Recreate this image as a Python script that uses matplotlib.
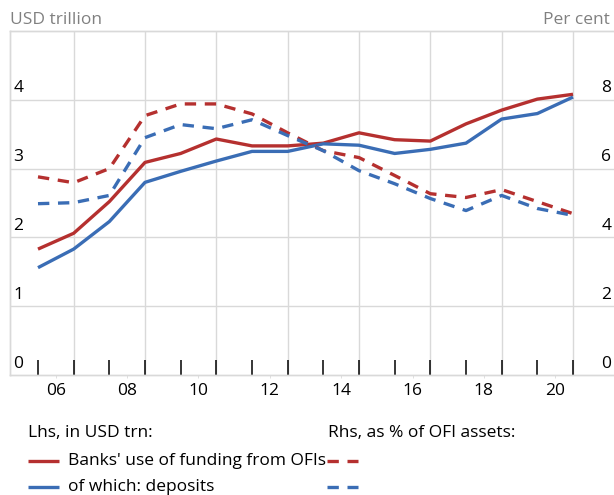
import matplotlib
matplotlib.use("Agg")
import matplotlib.pyplot as plt
from matplotlib.lines import Line2D
from matplotlib.transforms import ScaledTranslation
import numpy as np

plt.rcParams['font.family'] = ['Open Sans', 'DejaVu Sans']

# year-end observations, 2005-2020
years = np.arange(2005, 2021)
banks_funding = [1.83, 2.06, 2.52, 3.09, 3.22, 3.43, 3.33, 3.33, 3.37, 3.52,
                 3.42, 3.40, 3.65, 3.85, 4.01, 4.08]          # USD trn, lhs
deposits = [1.56, 1.83, 2.23, 2.80, 2.96, 3.11, 3.25, 3.25, 3.36, 3.34,
            3.22, 3.28, 3.37, 3.72, 3.80, 4.04]               # USD trn, lhs
banks_pct = [5.76, 5.59, 6.00, 7.54, 7.88, 7.88, 7.59, 7.04, 6.52, 6.32,
             5.80, 5.27, 5.16, 5.39, 5.04, 4.69]              # % of OFI assets, rhs
deposits_pct = [4.98, 5.01, 5.22, 6.90, 7.28, 7.16, 7.42, 6.96, 6.52, 5.94,
                5.56, 5.13, 4.78, 5.22, 4.84, 4.64]           # % of OFI assets, rhs

xlabels = ['06', '08', '10', '12', '14', '16', '18', '20']
lhs_ticks = [0, 1, 2, 3, 4]
rhs_ticks = [0, 2, 4, 6, 8]

red = '#B5302F'
blue = '#3A6DB5'
grid = '#D9D9D9'
fs = 12.5

W, H = 614, 495
fig = plt.figure(figsize=(W / 100, H / 100), dpi=100)
ax = fig.add_axes([10 / W, 120 / H, 604 / W, 344 / H])
ax2 = ax.twinx()

x = years + 1  # plotted at year end
ax.plot(x, banks_funding, color=red, lw=2.4, solid_capstyle='butt', zorder=3)
ax.plot(x, deposits, color=blue, lw=2.4, solid_capstyle='butt', zorder=3)
ax2.plot(x, banks_pct, color=red, lw=2.4, dashes=(3.4, 2.6), zorder=3)
ax2.plot(x, deposits_pct, color=blue, lw=2.4, dashes=(3.4, 2.6), zorder=3)

ax.set_xlim(2006 - 28 / 35.67, 2021 + 41 / 35.67)
ax.set_ylim(0, 5)
ax2.set_ylim(0, 10)

# grid
for v in range(2007, 2022, 2):
    ax.axvline(v, color=grid, lw=1, zorder=0)
for v in range(1, 5):
    ax.axhline(v, color=grid, lw=1, zorder=0)
for a in (ax, ax2):
    for s in a.spines.values():
        s.set_color(grid)
        s.set_linewidth(1)
    a.spines['right'].set_visible(False)

# x ticks: year marks inside, labels centred on years
ax.set_xticks(np.arange(2006, 2022))
ax.set_xticklabels([])
ax.tick_params(axis='x', which='major', direction='in', length=10.5,
               width=1.1, color='black')
ax.set_xticks(np.arange(2006.5, 2021, 2), minor=True)
ax.set_xticklabels(xlabels, minor=True, fontsize=fs)
ax.tick_params(axis='x', which='minor', direction='out', length=2,
               color=grid, pad=4)

# y tick labels inside, above the grid lines
lift = ScaledTranslation(0, 2.5 / 72, fig.dpi_scale_trans)
ax.set_yticks(lhs_ticks)
ax.set_yticklabels([str(t) for t in lhs_ticks], fontsize=fs)
ax.tick_params(axis='y', length=0, pad=-2.5)
for lbl in ax.get_yticklabels():
    lbl.set_ha('left')
    lbl.set_va('bottom')
    lbl.set_transform(lbl.get_transform() + lift)
ax2.set_yticks(rhs_ticks)
ax2.set_yticklabels([str(t) for t in rhs_ticks], fontsize=fs)
ax2.tick_params(axis='y', length=0, pad=-2)
for lbl in ax2.get_yticklabels():
    lbl.set_ha('right')
    lbl.set_va('bottom')
    lbl.set_transform(lbl.get_transform() + lift)

fig.text(10 / W, 1 - 20 / H, 'USD trillion', color='#808080', fontsize=fs,
         va='center', ha='left')
fig.text(610 / W, 1 - 20 / H, 'Per cent', color='#808080', fontsize=fs,
         va='center', ha='right')

# legend
def fy(py):
    return 1 - py / H

fig.text(28 / W, fy(433), 'Lhs, in USD trn:', fontsize=fs, va='center')
fig.text(328 / W, fy(433), 'Rhs, as % of OFI assets:', fontsize=fs, va='center')
rows = [(461, red, "Banks' use of funding from OFIs"),
        (487, blue, 'of which: deposits')]
for py, c, lab in rows:
    fig.add_artist(Line2D([28 / W, 59 / W], [fy(py), fy(py)], color=c, lw=2.4,
                          transform=fig.transFigure, solid_capstyle='butt'))
    fig.text(68 / W, fy(py), lab, fontsize=fs, va='center')
    fig.add_artist(Line2D([327 / W, 358 / W], [fy(py), fy(py)], color=c, lw=2.4,
                          dashes=(3.4, 2.6), transform=fig.transFigure))

fig.savefig('out.png', dpi=100)
